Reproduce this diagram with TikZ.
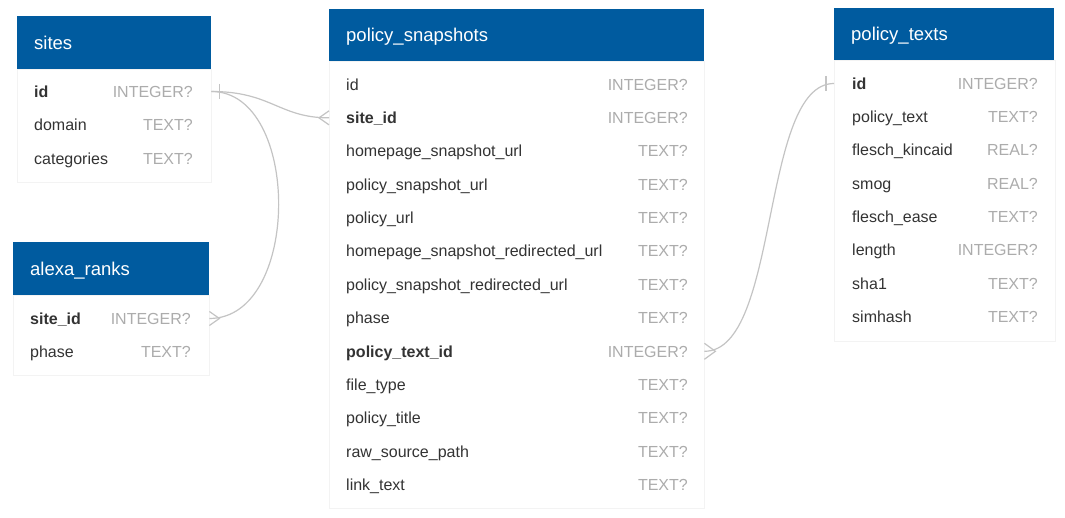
\documentclass[tikz,border=0pt]{standalone}
\usepackage{fontspec}
\setmainfont{Liberation Sans}
\usetikzlibrary{calc}
\definecolor{hdrblue}{RGB}{0,91,159}
\definecolor{typegray}{RGB}{172,172,172}
\definecolor{namegray}{RGB}{51,51,51}
\definecolor{linkgray}{RGB}{196,196,196}
\definecolor{edgegray}{RGB}{243,243,243}

\begin{document}
\begin{tikzpicture}[x=1pt, y=-1pt,
  header/.style={fill=hdrblue, text=white, font=\fontsize{18.5}{22}\selectfont,
    anchor=north west, inner xsep=17pt, inner ysep=0pt, minimum height=53pt, align=left,
    text height=13.5pt, text depth=0pt},
  tbody/.style={draw=edgegray, fill=white, anchor=north west, inner sep=0pt},
  colname/.style={anchor=west, inner sep=0pt, text height=11.5pt, text depth=0pt,
    text=namegray, font=\fontsize{16}{19}\selectfont},
  coltype/.style={colname, anchor=east, text=typegray},
  key/.style={font=\fontsize{16}{19}\selectfont\bfseries},
  plain/.style={},
  link/.style={draw=linkgray, line width=1.2pt}]
  \fill[white] (0,0) rectangle (1065,518);
  \useasboundingbox (0,0) rectangle (1065,518);

  % sites
  \node[tbody, minimum width=194pt, minimum height=113pt] (sites-body) at (17,69) {};
  \node[header, text width=160pt] (sites) at (17,16) {sites};
  \foreach \s/\n/\t [count=\i] in {key/id/INTEGER?, plain/domain/TEXT?, plain/categories/TEXT?}{
    \node[colname, \s] (sites-\i) at (34, {91.5+(\i-1)*33.5}) {\n};
    \node[coltype] (sites-\i-type) at (193, {91.5+(\i-1)*33.5}) {\t};
  }

  % alexa_ranks
  \node[tbody, minimum width=196pt, minimum height=80pt] (alexa-body) at (13,295) {};
  \node[header, text width=162pt] (alexa) at (13,242) {alexa\_ranks};
  \foreach \s/\n/\t [count=\i] in {key/site\_id/INTEGER?, plain/phase/TEXT?}{
    \node[colname, \s] (alexa-\i) at (30, {318.5+(\i-1)*33.5}) {\n};
    \node[coltype] (alexa-\i-type) at (191, {318.5+(\i-1)*33.5}) {\t};
  }

  % policy_snapshots
  \node[tbody, minimum width=375pt, minimum height=447pt] (snap-body) at (329,61) {};
  \node[header, text width=341pt, minimum height=52pt] (snap) at (329,9) {policy\_snapshots};
  \foreach \s/\n/\t [count=\i] in {plain/id/INTEGER?, key/site\_id/INTEGER?,
      plain/homepage\_snapshot\_url/TEXT?, plain/policy\_snapshot\_url/TEXT?,
      plain/policy\_url/TEXT?, plain/homepage\_snapshot\_redirected\_url/TEXT?,
      plain/policy\_snapshot\_redirected\_url/TEXT?, plain/phase/TEXT?,
      key/policy\_text\_id/INTEGER?, plain/file\_type/TEXT?, plain/policy\_title/TEXT?,
      plain/raw\_source\_path/TEXT?, plain/link\_text/TEXT?}{
    \node[colname, \s] (snap-\i) at (346, {84.5+(\i-1)*33.35}) {\n};
    \node[coltype] (snap-\i-type) at (688, {84.5+(\i-1)*33.35}) {\t};
  }

  % policy_texts
  \node[tbody, minimum width=221pt, minimum height=281pt] (texts-body) at (834,60) {};
  \node[header, text width=186pt, minimum height=52pt] (texts) at (834,8) {policy\_texts};
  \foreach \s/\n/\t [count=\i] in {key/id/INTEGER?, plain/policy\_text/TEXT?,
      plain/flesch\_kincaid/REAL?, plain/smog/REAL?, plain/flesch\_ease/TEXT?,
      plain/length/INTEGER?, plain/sha1/TEXT?, plain/simhash/TEXT?}{
    \node[colname, \s] (texts-\i) at (852, {83.5+(\i-1)*33.3}) {\n};
    \node[coltype] (texts-\i-type) at (1038, {83.5+(\i-1)*33.3}) {\t};
  }

  % relations
  \draw[link] (sites-body.east |- sites-1) .. controls +(60,0) and +(-50,0) .. (snap-body.west |- snap-2);
  \draw[link] (sites-body.east |- sites-1) .. controls +(90,0) and +(92,0) .. (alexa-body.east |- alexa-1);
  \draw[link] (snap-body.east |- snap-9) .. controls +(76,0) and +(-74,0) .. (texts-body.west |- texts-1);
  % one ends
  \draw[link] ($(sites-body.east |- sites-1)+(8,-7.5)$) -- +(0,15);
  \draw[link] ($(texts-body.west |- texts-1)+(-8,-7.5)$) -- +(0,15);
  % many ends
  \draw[link] ($(snap-body.west |- snap-2)+(0,-7)$) -- ++(-10,7) -- ++(10,7);
  \draw[link] ($(alexa-body.east |- alexa-1)+(0,-7)$) -- ++(10,7) -- ++(-10,7);
  \draw[link] ($(snap-body.east |- snap-9)+(0,-8)$) -- ++(11,8) -- ++(-11,8);
\end{tikzpicture}
\end{document}
